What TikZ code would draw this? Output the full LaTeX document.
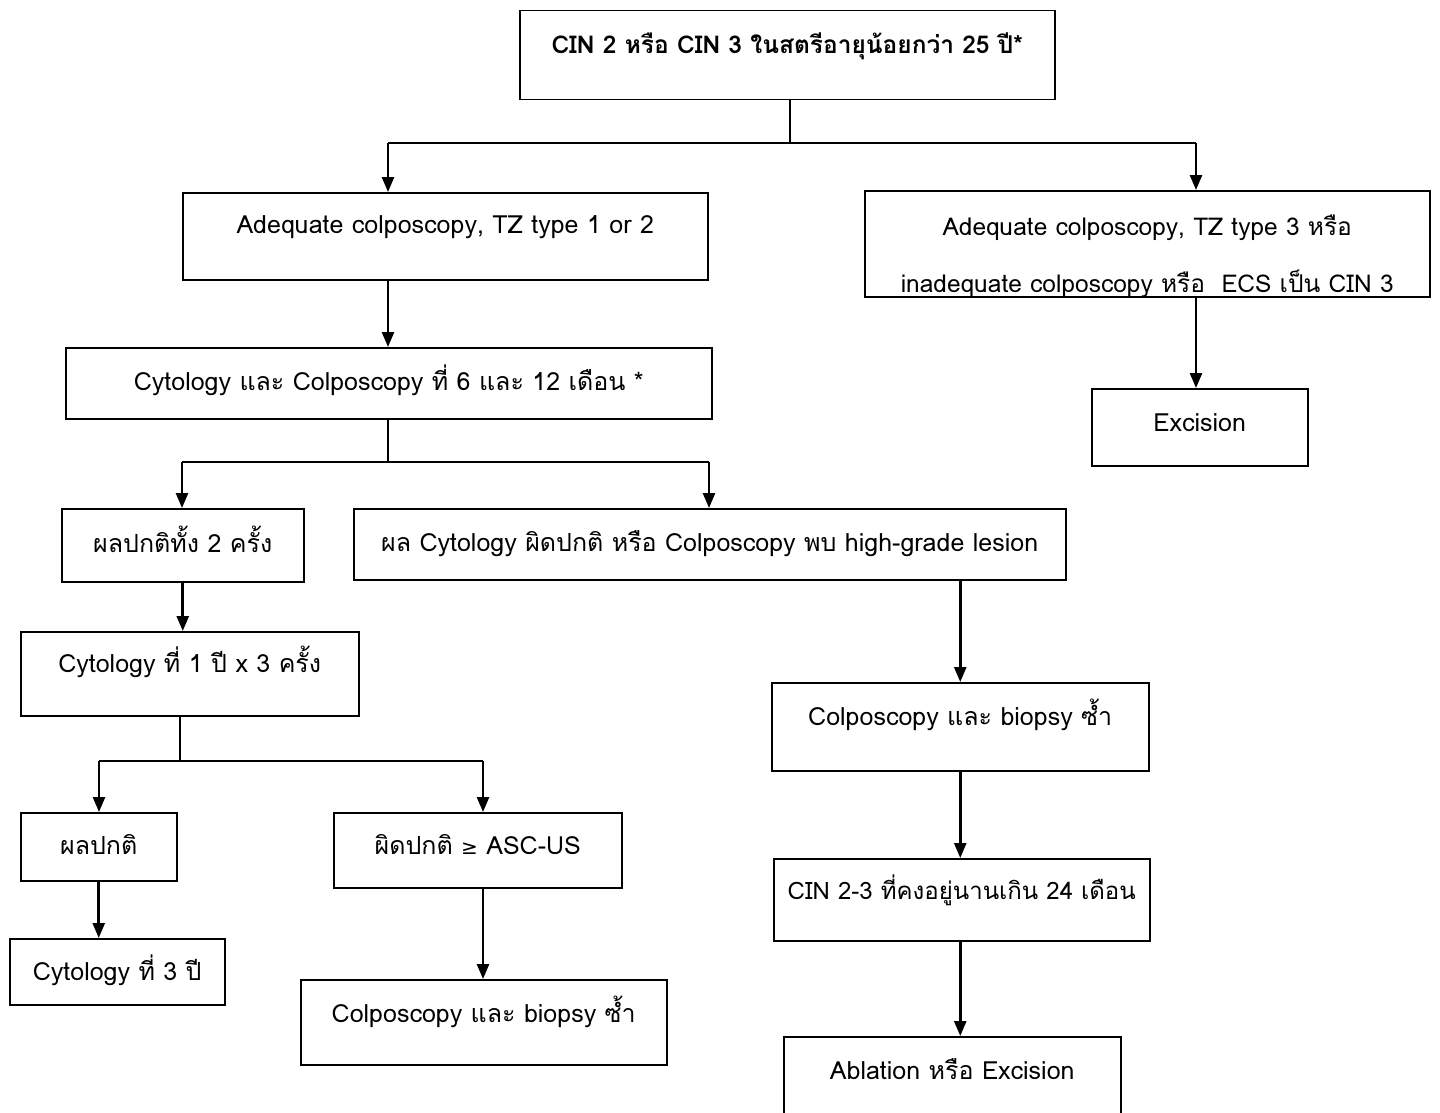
\documentclass[tikz,border=0pt]{standalone}
\usepackage{fontspec}
\setmainfont[Script=Thai]{Loma}
\newfontfamily\symfont{DejaVu Sans}
\usetikzlibrary{arrows.meta}
\tikzset{
  box/.style={draw, line width=1.5pt, inner sep=0pt, anchor=north west, align=center,
    font=\fontsize{25}{30}\selectfont},
  stem/.style={line width=1.1pt},
  hline/.style={line width=1.5pt},
  arr/.style={line width=2.6pt, -{Triangle[length=15pt,width=12pt]}},
}
\begin{document}
\begin{tikzpicture}[x=1pt,y=-1pt]
\useasboundingbox[fill=white] (0,0) rectangle (1440,1113);
% boxes
\node[box, minimum width=535pt, text height=43pt, text depth=46pt, font=\fontsize{24.5}{29}\selectfont\bfseries] (top) at (519,10) {CIN 2 หรือ CIN 3 ในสตรีอายุน้อยกว่า 25 ปี*};
\node[box, minimum width=525pt, text height=41pt, text depth=46pt] (a1) at (182,192) {Adequate colposcopy, TZ type 1 or 2};
\node[box, minimum width=565pt, text height=45pt, text depth=61pt] (a2) at (864,190)
  {\fontsize{24.5}{57}\selectfont\begin{tabular}[t]{@{}c@{}}Adequate colposcopy, TZ type 3 หรือ\\ inadequate colposcopy หรือ\ \ ECS เป็น CIN 3\end{tabular}};
\node[box, minimum width=646pt, text height=43pt, text depth=28pt] (b) at (65,347) {Cytology และ Colposcopy ที่ 6 และ 12 เดือน *};
\node[box, minimum width=216pt, text height=43pt, text depth=34pt] (exc) at (1091,388) {Excision};
\node[box, minimum width=242pt, text height=44pt, text depth=29pt] (c1) at (61,508) {ผลปกติทั้ง 2 ครั้ง};
\node[box, minimum width=712pt, text height=43pt, text depth=28pt] (c2) at (353,508) {ผล Cytology ผิดปกติ หรือ Colposcopy พบ high-grade lesion};
\node[box, minimum width=338pt, text height=41pt, text depth=43pt] (d) at (20,631) {Cytology ที่ 1 ปี x 3 ครั้ง};
\node[box, minimum width=156pt, text height=42pt, text depth=26pt] (e1) at (20,812) {ผลปกติ};
\node[box, minimum width=288pt, text height=42pt, text depth=33pt] (e2) at (333,812) {ผิดปกติ {\symfont\fontsize{20}{24}\selectfont ≥} ASC-US};
\node[box, minimum width=215pt, text height=42pt, text depth=24pt] (f1) at (9,938) {Cytology ที่ 3 ปี};
\node[box, minimum width=366pt, text height=43pt, text depth=42pt] (f2) at (300,979) {Colposcopy และ biopsy ซ้ำ};
\node[box, minimum width=377pt, text height=43pt, text depth=45pt] (g) at (771,682) {Colposcopy และ biopsy ซ้ำ};
\node[box, minimum width=376pt, text height=41pt, text depth=41pt, font=\fontsize{24}{29}\selectfont] (h) at (773,858) {CIN 2-3 ที่คงอยู่นานเกิน 24 เดือน};
\node[box, minimum width=337pt, text height=43pt, text depth=45pt] (i) at (783,1036) {Ablation หรือ Excision};
% junctions
\coordinate (j1) at (790,143);
\coordinate (j1L) at (388,143);
\coordinate (j1R) at (1196,143);
\coordinate (j2) at (388,462);
\coordinate (j2L) at (182,462);
\coordinate (j2R) at (709,462);
\coordinate (j3) at (180,761);
\coordinate (j3L) at (99,761);
\coordinate (j3R) at (483,761);
% connectors
\draw[stem] (top.south -| j1) -- (j1);
\draw[hline] (j1L) -- (j1R);
\draw[arr] (j1L) -- (j1L |- a1.north);
\draw[arr] (j1R) -- (j1R |- a2.north);
\draw[arr] (a1.south -| j1L) -- (b.north -| j1L);
\draw[arr] (a2.south -| j1R) -- (exc.north -| j1R);
\draw[stem] (b.south -| j2) -- (j2);
\draw[hline] (j2L) -- (j2R);
\draw[arr] (j2L) -- (j2L |- c1.north);
\draw[arr] (j2R) -- (j2R |- c2.north);
\draw[arr] (c1.south) -- (c1.south |- d.north);
\draw[stem] (d.south -| j3) -- (j3);
\draw[hline] (j3L) -- (j3R);
\draw[arr] (j3L) -- (j3L |- e1.north);
\draw[arr] (j3R) -- (j3R |- e2.north);
\draw[arr] (e1.south) -- (e1.south |- f1.north);
\draw[arr] (e2.south -| j3R) -- (f2.north -| j3R);
\draw[arr] (c2.south -| g.north) -- (g.north);
\draw[arr] (g.south) -- (g.south |- h.north);
\draw[arr] (h.south -| g.south) -- (i.north -| g.south);
\end{tikzpicture}
\end{document}
